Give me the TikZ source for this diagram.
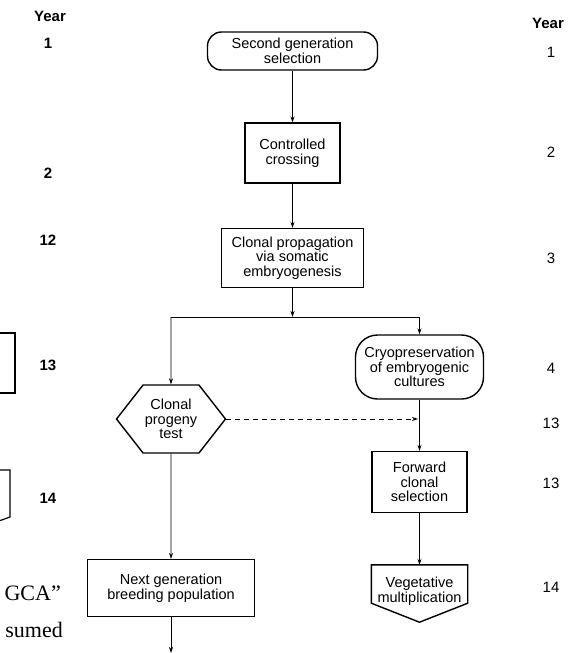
\documentclass[tikz,border=0pt]{standalone}
\usepackage{fontspec}
\setmainfont{Liberation Sans}
\newfontfamily\fragserif{Liberation Serif}
\usetikzlibrary{arrows.meta, positioning, shapes.geometric, shapes.symbols}

\tikzset{
   boxfont/.style={font=\fontsize{14.5}{14.5}\selectfont},
   terminal/.style={draw, line width=1.4pt, rounded corners=14pt, align=center, boxfont},
   procbox/.style={draw, line width=1.4pt, align=center, boxfont},
   hexbox/.style={draw, line width=1.4pt, signal, signal to=west and east,
      signal pointer angle=104, align=center, inner sep=1pt, boxfont},
   flow/.style={-{Stealth[length=6pt,width=4pt]}, line width=0.8pt},
   yearbold/.style={font=\bfseries\fontsize{15}{15}\selectfont},
   yearplain/.style={font=\fontsize{15}{15}\selectfont}
}

\begin{document}
\begin{tikzpicture}[x=1pt, y=-1pt]
            \useasboundingbox (0,0) rectangle (588,653);
            % Year columns
            \node[yearbold] (lyearhead) at (50,16) {Year};
            \foreach \yr/\yy [count=\k] in {1/43, 2/173, 12/240, 13/365, 14/498}
               \node[yearbold] (lyear\k) at (48,\yy) {\yr};
            \node[yearbold] (ryearhead) at (548,23) {Year};
            \foreach \yr/\yy [count=\k] in {1/52, 2/152, 3/258, 4/368, 13/423, 13/483, 14/587}
               \node[yearplain] (ryear\k) at (551,\yy) {\yr};
            % Main column
            \node[terminal, minimum width=170pt, minimum height=38pt] (secsel) at (292.5,51)
               {Second generation\\selection};
            \node[procbox, minimum width=95pt, minimum height=60pt] (ctrlcross) at (292.5,153)
               {Controlled\\crossing};
            \node[procbox, minimum width=142pt, minimum height=59pt] (clonprop) at (292.5,258)
               {Clonal propagation\\via somatic\\embryogenesis};
            % Left branch
            \node[hexbox, minimum width=109pt, minimum height=68pt] (progtest) at (171,419)
               {Clonal\\progeny\\test};
            \node[procbox, minimum width=167pt, minimum height=57pt] (nextgen) at (171,588)
               {Next generation\\breeding population};
            % Right branch
            \node[terminal, rounded corners=22pt, minimum width=128pt, minimum height=64pt] (cryo) at (419.5,367)
               {Cryopreservation\\of embryogenic\\cultures};
            \node[procbox, minimum width=95pt, minimum height=61pt] (fwdsel) at (419.5,482)
               {Forward\\clonal\\selection};
            \node[minimum width=96pt, minimum height=38pt,
               label={[boxfont, align=center, yshift=-7pt]center:Vegetative\\multiplication}] (vegmult) at (419.5,584) {};
            \draw[line width=1.4pt] (vegmult.north west) -- (vegmult.north east) -- (vegmult.south east)
               -- ([yshift=-19pt]vegmult.south) -- (vegmult.south west) -- cycle;
            % Split and free ends
            \coordinate (splitc) at (292.5,317);
            \coordinate (splitl) at (171,317);
            \coordinate (splitr) at (419.5,317);
            \coordinate (dashend) at (419.5,419);
            \coordinate (tailend) at (171,653);
            % Connectors
            \draw[flow] (secsel) -- (ctrlcross);
            \draw[flow] (ctrlcross) -- (clonprop);
            \draw[flow] (clonprop) -- (splitc);
            \draw[line width=0.8pt] (splitl) -- (splitr);
            \draw[flow] (splitl) -- (progtest);
            \draw[flow] (splitr) -- (cryo);
            \draw[flow] (cryo) -- (fwdsel);
            \draw[flow, dash pattern=on 5pt off 4pt, shorten >=1.5pt] (progtest.east) -- (dashend);
            \draw[flow] (progtest) -- (nextgen);
            \draw[flow] (fwdsel) -- (vegmult);
            \draw[flow] (nextgen) -- (tailend);
            % Fragments at the left edge
            \draw[line width=1.2pt] (-60,333) -- (15,333) -- (15,393) -- (-60,393);
            \draw[line width=1.2pt] (-60,470) -- (10,470) -- (10,517) -- (-40,535);
            \node[anchor=east, inner sep=0pt, font=\fragserif\fontsize{22}{22}\selectfont] (gcafrag) at (61,593) {GCA”};
            \node[anchor=east, inner sep=0pt, font=\fragserif\fontsize{22}{22}\selectfont] (sumedfrag) at (63,630) {sumed};
         \end{tikzpicture}
\end{document}
